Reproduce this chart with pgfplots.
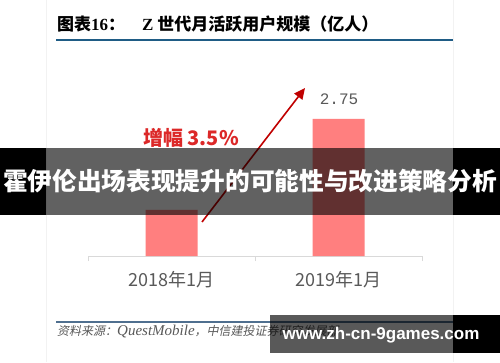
\documentclass[border=0pt]{standalone}
\usepackage{pgfplots}
\pgfplotsset{compat=1.18}
\usetikzlibrary{arrows.meta}
\usepackage{fontspec}
\setmainfont{Noto Sans CJK SC}
\newfontfamily\serifl{Liberation Serif}
\newfontfamily\monol{Liberation Mono}
\newfontfamily\cjkslant[FakeSlant=0.2]{Noto Sans CJK SC}
\newfontfamily\sansl{Liberation Sans}
\definecolor{barred}{HTML}{FF7F7F}
\definecolor{incred}{HTML}{DC2828}
\definecolor{arrowred}{HTML}{C00000}
\definecolor{textgray}{HTML}{595959}
\definecolor{axisgray}{HTML}{D9D9D9}
\definecolor{titleblue}{HTML}{1F5C85}
\definecolor{bottomblue}{HTML}{4F6F8F}
\begin{document}
\begin{tikzpicture}[x=1pt,y=1pt]
\path[use as bounding box, fill=white] (0,0) rectangle (500,362);
\draw[gray!10, line width=1pt] (46,0)--(46,362);
\draw[gray!10, line width=1pt] (453,0)--(453,362);
% title
\node[anchor=west, inner sep=0] at (57,338) {\fontsize{17}{17}\selectfont\bfseries 图表{\serifl 16}：\quad{\serifl Z} 世代月活跃用户规模（亿人）};
\draw[titleblue, line width=1.6pt] (56,322)--(453,322);
\begin{axis}[at={(88pt,106pt)}, anchor=south west, scale only axis,
  width=334pt, height=196pt,
  xmin=-0.5, xmax=1.5, ymin=2.61, ymax=2.81,
  ybar, bar width=52pt,
  axis x line*=bottom, hide y axis,
  x axis line style={axisgray, line width=1pt, -},
  xtick={0,1}, xticklabels={2018年1月,2019年1月},
  major tick length=0pt,
  extra x ticks={-0.5,0.5,1.5}, extra x tick labels={},
  extra x tick style={major tick length=5pt, tick align=outside, tick style={axisgray, line width=1pt}},
  xticklabel style={font=\fontsize{18}{18}\selectfont, text=textgray, yshift=-12pt},
  clip=true]
\addplot[fill=barred, draw=none] coordinates {(0,2.657) (1,2.75)};
\end{axis}
\node[text=textgray] at (339,263) {\fontsize{16}{16}\selectfont\monol 2.75};
\node[anchor=west, inner sep=0] at (143,224) {\fontsize{20}{20}\selectfont\bfseries\color{incred}增幅 3.5\%};
\draw[arrowred, line width=1.6pt, -{Triangle[length=11pt,width=10pt]}] (202,140) -- (305,274);
% banner
\fill[black] (0,147) rectangle (46,214);
\fill[black] (453,147) rectangle (500,214);
\fill[black, opacity=0.62] (46,147) rectangle (453,214);
\node[text=white] at (250,181) {\fontsize{24.7}{25}\selectfont\bfseries 霍伊伦出场表现提升的可能性与改进策略分析};
% bottom
\draw[bottomblue, line width=1.2pt] (56,40)--(453,40);
\node[anchor=west, inner sep=0, text=textgray] at (57,30) {\fontsize{12}{12}\selectfont\cjkslant 资料来源：{\fontsize{15}{15}\selectfont\serifl\itshape QuestMobile}，中信建投证券研究发展部};
% watermark
\fill[black, opacity=0.65] (270,9) rectangle (453,47);
\fill[black] (453,9) rectangle (500,47);
\node[text=white] at (381,27) {\fontsize{17}{17}\selectfont\sansl\bfseries www.zh-cn-9games.com};
\end{tikzpicture}
\end{document}
